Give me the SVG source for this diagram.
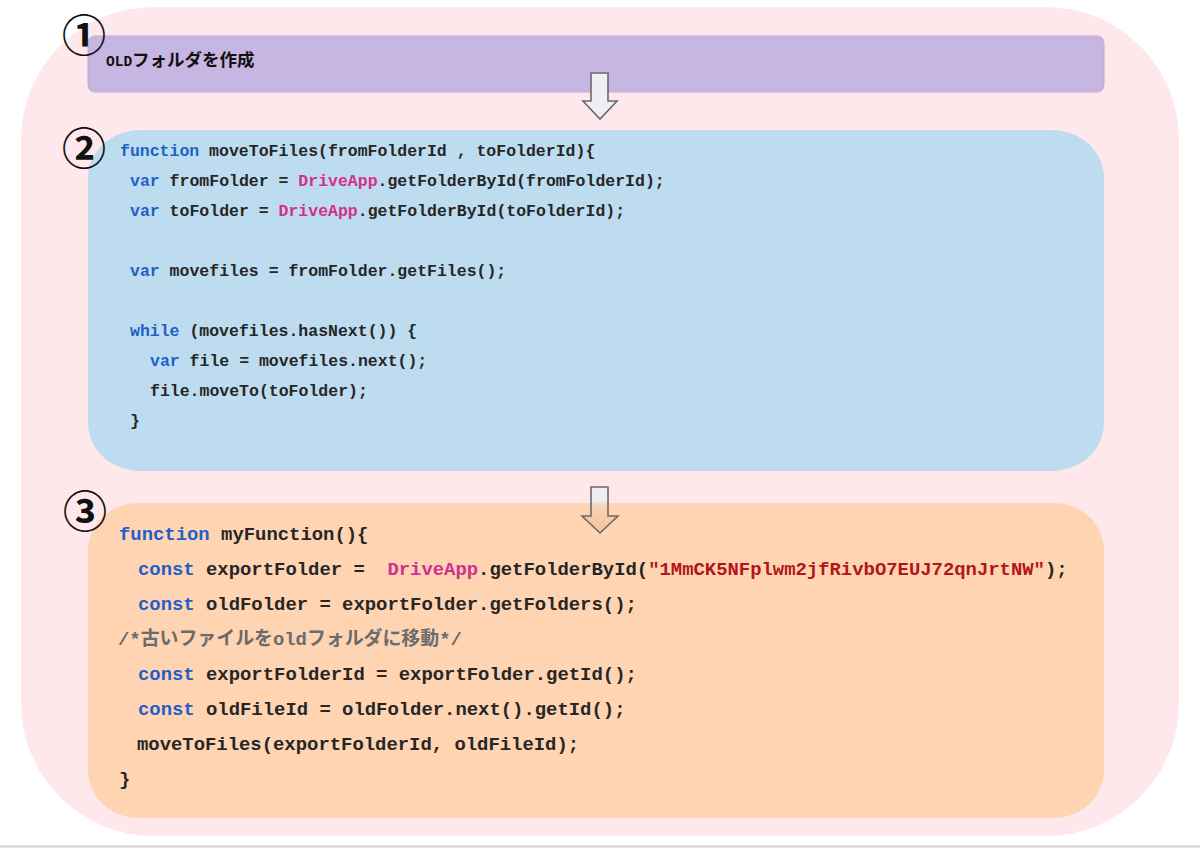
<svg xmlns="http://www.w3.org/2000/svg" width="1200" height="848" viewBox="0 0 1200 848">
<style>
.code{font-family:"Liberation Mono","Noto Sans CJK JP",monospace;font-weight:bold;fill:#262626;white-space:pre}
.b{font-size:16.5px}
.o{font-size:18.9px}
.kw{fill:#1f5fc8}
.da{fill:#d42f8c}
.str{fill:#b3151a}
.cm{fill:#6b6b6b}
.num{font-family:"Noto Sans CJK JP","DejaVu Sans",sans-serif;font-size:44px;font-weight:bold;fill:#111}
.arrow{stroke:#6a6a6a;stroke-width:1.6;stroke-linejoin:miter}
</style>
<defs>
<linearGradient id="g2" x1="0" y1="0" x2="0" y2="1">
<stop offset="0" stop-color="#efeef3"/>
<stop offset="0.3" stop-color="#efeef3"/>
<stop offset="0.38" stop-color="#f8d6b8"/>
<stop offset="1" stop-color="#f3c096"/>
</linearGradient>
</defs>
<rect width="1200" height="848" fill="#ffffff"/>
<line x1="0" y1="846.5" x2="1200" y2="846.5" stroke="#d2d2d2" stroke-width="2"/>
<g id="container">
<rect x="21" y="7" width="1158" height="829" rx="133" ry="133" fill="#ffe8ec"/>
</g>
<g id="node1">
<rect x="88" y="36" width="1016" height="56" rx="7" fill="#c8b6e2" stroke="#bcaad8" stroke-width="1"/>
<text x="106" y="66" class="code" style="fill:#111"><tspan font-size="14.5px">OLD</tspan><tspan font-family="Noto Sans CJK JP, sans-serif" font-size="17.5px">フォルダを作成</tspan></text>
</g>
<g id="node2">
<rect x="88" y="130" width="1016" height="341" rx="52" ry="48" fill="#bddcef"/>
<text class="code b" x="120" y="156"><tspan class="kw">function</tspan> moveToFiles(fromFolderId , toFolderId){</text>
<text class="code b" x="130" y="186"><tspan class="kw">var</tspan> fromFolder = <tspan class="da">DriveApp</tspan>.getFolderById(fromFolderId);</text>
<text class="code b" x="130" y="216"><tspan class="kw">var</tspan> toFolder = <tspan class="da">DriveApp</tspan>.getFolderById(toFolderId);</text>
<text class="code b" x="130" y="276"><tspan class="kw">var</tspan> movefiles = fromFolder.getFiles();</text>
<text class="code b" x="130" y="336"><tspan class="kw">while</tspan> (movefiles.hasNext()) {</text>
<text class="code b" x="150" y="366"><tspan class="kw">var</tspan> file = movefiles.next();</text>
<text class="code b" x="150" y="396">file.moveTo(toFolder);</text>
<text class="code b" x="130" y="426">}</text>
</g>
<g id="node3">
<rect x="88" y="503" width="1016" height="315" rx="50" ry="48" fill="#fed4b3"/>
<text class="code o" x="119" y="540"><tspan class="kw">function</tspan> myFunction(){</text>
<text class="code o" x="138" y="575"><tspan class="kw">const</tspan> exportFolder =  <tspan class="da">DriveApp</tspan>.getFolderById(<tspan class="str">"1MmCK5NFplwm2jfRivbO7EUJ72qnJrtNW"</tspan>);</text>
<text class="code o" x="138" y="610"><tspan class="kw">const</tspan> oldFolder = exportFolder.getFolders();</text>
<text class="code o cm" x="118" y="645">/*古いファイルをoldフォルダに移動*/</text>
<text class="code o" x="138" y="680"><tspan class="kw">const</tspan> exportFolderId = exportFolder.getId();</text>
<text class="code o" x="138" y="715"><tspan class="kw">const</tspan> oldFileId = oldFolder.next().getId();</text>
<text class="code o" x="137" y="750">moveToFiles(exportFolderId, oldFileId);</text>
<text class="code o" x="119" y="785">}</text>
</g>
<g id="badges">
<text class="num" x="84" y="52" text-anchor="middle">①</text>
<text class="num" x="84" y="165" text-anchor="middle">②</text>
<text class="num" x="85" y="528" text-anchor="middle">③</text>
</g>
<g id="connectors">
<path class="arrow" fill="#efeef2" d="M591,73 L608,73 L608,101 L617,101 L600,119 L583,101 L591,101 Z"/>
<path class="arrow" fill="url(#g2)" d="M591,487 L608,487 L608,516 L618,516 L600,533 L582,516 L591,516 Z"/>
</g>
</svg>
